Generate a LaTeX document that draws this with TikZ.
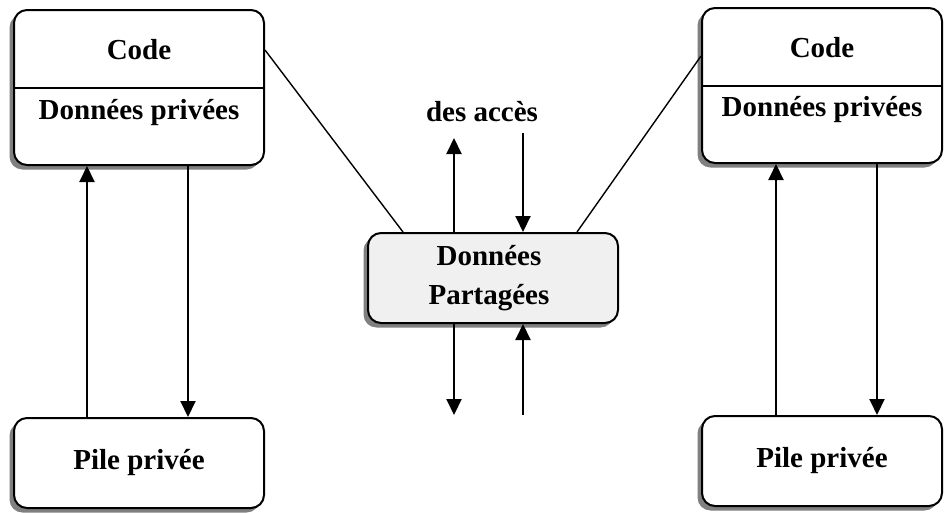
\documentclass[tikz,border=0pt]{standalone}
\usepackage{fontspec}
\setmainfont{Liberation Serif}
\usetikzlibrary{shadows,arrows.meta}
\begin{document}
\begin{tikzpicture}[x=1pt,y=-1pt,
  box/.style={draw,line width=2pt,rounded corners=13pt,fill=white,
    drop shadow={shadow xshift=-4.5pt,shadow yshift=-4.5pt,fill=black!50,opacity=1}},
  lbl/.style={font=\fontsize{29}{39}\selectfont\bfseries,align=center,inner sep=0pt},
  flow/.style={line width=2pt,-{Triangle[length=16pt,width=15pt]}},
  link/.style={line width=1.4pt}]
\useasboundingbox (0,0) rectangle (944,512);

% left process
\node[box,minimum width=250pt,minimum height=155pt] (codeL) at (139,87.5) {};
\draw[line width=1.5pt] (codeL.west |- 0,88) -- (codeL.east |- 0,88);
\node[lbl] (codeLt) at (139,50) {Code};
\node[lbl] (dataLt) at (139,113) {Données privées};
\node[box,minimum width=250pt,minimum height=90pt] (pileL) at (139,463) {};
\node[lbl] (pileLt) at (139,463) {Pile privée};

% right process
\node[box,minimum width=240pt,minimum height=155pt] (codeR) at (822,85.5) {};
\draw[line width=1.5pt] (codeR.west |- 0,86) -- (codeR.east |- 0,86);
\node[lbl] (codeRt) at (822,48) {Code};
\node[lbl] (dataRt) at (822,110) {Données privées};
\node[box,minimum width=240pt,minimum height=90pt] (pileR) at (822,461) {};
\node[lbl] (pileRt) at (822,461) {Pile privée};

% shared segment
\node[box,fill=black!6,minimum width=250pt,minimum height=90pt] (shared) at (493,278) {};
\node[lbl] (sharedt) at (489,278) {Données\\Partagées};
\node[lbl] (acces) at (482,112) {des accès};

% stack traffic
\draw[flow] (pileL.north -| 87,0) -- (codeL.south -| 87,0);
\draw[flow] (codeL.south -| 188,0) -- (pileL.north -| 188,0);
\draw[flow] (pileR.north -| 776,0) -- (codeR.south -| 776,0);
\draw[flow] (codeR.south -| 877,0) -- (pileR.north -| 877,0);

% accesses to the shared segment
\coordinate (outU) at (454,138);
\coordinate (inU) at (523,133);
\coordinate (outD) at (454,415);
\coordinate (inD) at (523,415);
\draw[flow] (shared.north -| outU) -- (outU);
\draw[flow] (inU) -- (shared.north -| inU);
\draw[flow] (shared.south -| outD) -- (outD);
\draw[flow] (inD) -- (shared.south -| inD);

% mappings of the shared segment
\draw[link] (codeL.east |- 0,50) -- (shared.north -| 403,0);
\draw[link] (codeR.west |- 0,56) -- (shared.north -| 577,0);
\end{tikzpicture}
\end{document}
